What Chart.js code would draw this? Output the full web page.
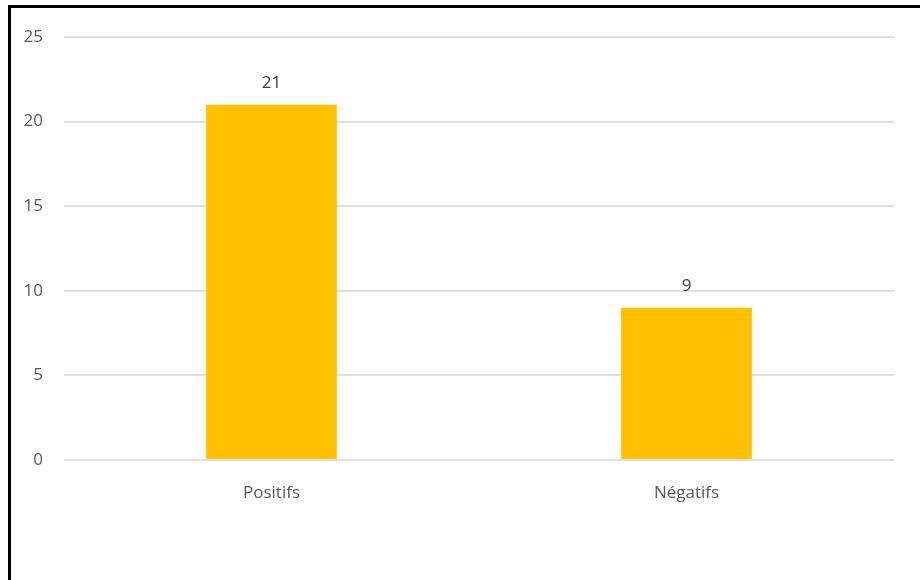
<!DOCTYPE html>
<html>
<head>
<meta charset="utf-8">
<script src="https://cdn.jsdelivr.net/npm/chart.js@4"></script>
<style>
  html, body { margin: 0; padding: 0; background: #fff; }
  .frame { position: relative; width: 920px; height: 580px; overflow: hidden; }
  .frame canvas { position: absolute; left: 0; top: 0; }
  .border-top { position: absolute; left: 8px; top: 5px; width: 912px; height: 3px; background: #000; }
  .border-left { position: absolute; left: 8px; top: 5px; width: 3px; height: 575px; background: #000; }
</style>
</head>
<body>
<div class="frame">
  <canvas id="avisChart" width="920" height="580"></canvas>
  <div class="border-top"></div>
  <div class="border-left"></div>
</div>
<script>
const categories = ['Positifs', 'Négatifs']
const values = [21, 9]
const yTicks = [0, 5, 10, 15, 20, 25]

// value labels above the bars
const barLabels = {
  id: 'barLabels',
  afterDatasetsDraw(chart) {
    const ctx = chart.ctx
    const meta = chart.getDatasetMeta(0)
    ctx.save()
    ctx.font = "17px 'Open Sans', sans-serif"
    ctx.fillStyle = '#404040'
    ctx.textAlign = 'center'
    ctx.textBaseline = 'bottom'
    meta.data.forEach((bar, i) => {
      ctx.fillText(values[i], bar.x, bar.y - 13)
    })
    ctx.restore()
  }
}

const config = {
  type: 'bar',
  data: {
    labels: categories,
    datasets: [{
      data: values,
      backgroundColor: '#FFC000',
      barPercentage: 0.315,
      categoryPercentage: 1
    }]
  },
  options: {
    responsive: false,
    animation: false,
    layout: { padding: { top: 37, right: 26, left: 0, bottom: 0 } },
    scales: {
      x: {
        grid: { display: false },
        border: { display: false },
        ticks: {
          padding: 15,
          font: { size: 17, family: "'Open Sans', sans-serif" },
          color: '#595959'
        },
        afterFit(scale) { scale.height = 120 }
      },
      y: {
        min: 0,
        max: 25,
        afterBuildTicks(scale) { scale.ticks = yTicks.map(v => ({ value: v })) },
        grid: { color: '#e0e0e0', lineWidth: 2, drawTicks: false },
        border: { display: false },
        ticks: {
          padding: 21,
          font: { size: 17, family: "'Open Sans', sans-serif" },
          color: '#595959'
        },
        afterFit(scale) { scale.width = 64 }
      }
    },
    plugins: {
      legend: { display: false },
      tooltip: { enabled: false }
    }
  },
  plugins: [barLabels]
}

new Chart(document.querySelector('#avisChart'), config)
</script>
</body>
</html>
